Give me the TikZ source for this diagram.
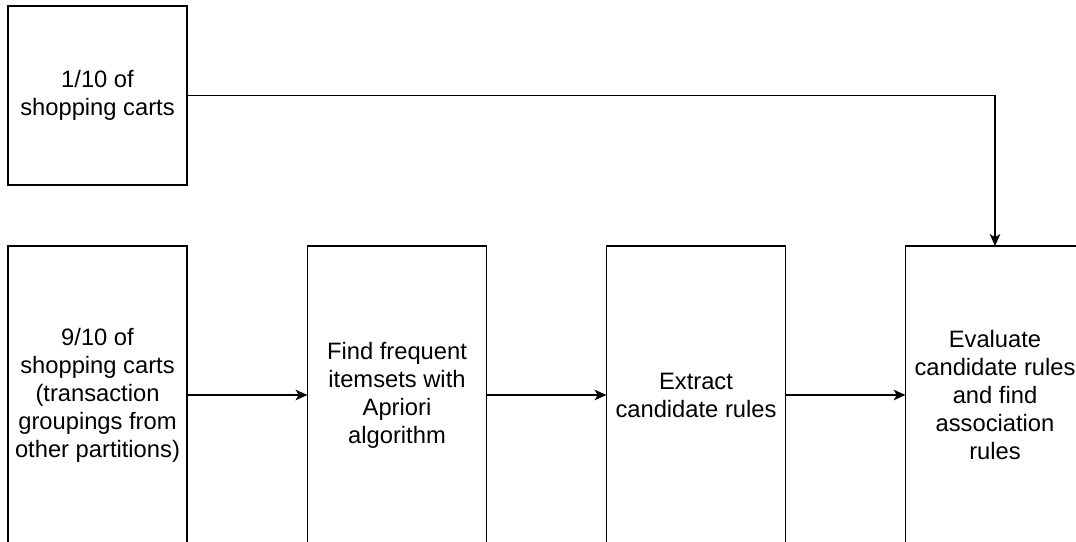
\documentclass[tikz,border=0pt]{standalone}
\usepackage{fontspec}
\setmainfont{Liberation Sans}
\usetikzlibrary{arrows.meta}
\begin{document}
\begin{tikzpicture}[x=0.75pt,y=-0.75pt,
  boxstyle/.style={draw,line width=1pt,inner sep=0pt,outer sep=0pt,
    minimum width=134.25pt,align=center,
    font=\fontsize{17.8pt}{21pt}\selectfont},
  topbox/.style={boxstyle,minimum height=134.25pt},
  lowbox/.style={boxstyle,minimum height=223.5pt},
  conn/.style={line width=1pt,-{Stealth[length=9pt,width=8pt,inset=2.5pt]}}]
\useasboundingbox (0,0) rectangle (1076,542);
\clip (0,0) rectangle (1076,542);
\node[topbox] (sample) at (97.5,95.5) {1/10 of\\shopping carts};
\node[lowbox] (train) at (97.5,395) {9/10 of\\shopping carts\\(transaction\\groupings from\\other partitions)};
\node[lowbox] (apriori) at (397,395) {Find frequent\\itemsets with\\Apriori\\algorithm};
\node[lowbox] (extract) at (696,395) {Extract\\candidate rules};
\node[lowbox] (eval) at (995,395) {Evaluate\\candidate rules\\and find\\association\\rules};
\draw[conn] (train) -- (apriori);
\draw[conn] (apriori) -- (extract);
\draw[conn] (extract) -- (eval);
\draw[conn] (sample.east) -| (eval.north);
\end{tikzpicture}
\end{document}
